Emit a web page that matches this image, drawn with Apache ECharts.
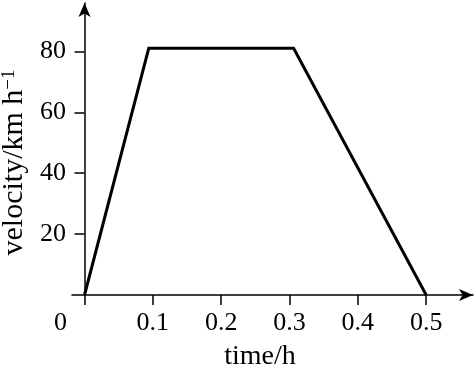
<!DOCTYPE html>
<html>
<head>
<meta charset="utf-8">
<script src="https://cdn.jsdelivr.net/npm/echarts@6/dist/echarts.min.js"></script>
<style>html,body{margin:0;padding:0;background:#fff;}#c{width:474px;height:366px;}</style>
</head>
<body>
<div id="c"></div>
<script>
const timeH = [0, 0.094, 0.306, 0.5];
const velocity = [0, 81, 81, 0];
const xTicks = [0, 0.1, 0.2, 0.3, 0.4, 0.5];
const yTicks = [20, 40, 60, 80];
const xName = 'time/h';
const yName = 'velocity/km h';
const ySup = '−1';

const font = '"Liberation Serif", "Times New Roman", serif';
const chart = echarts.init(document.getElementById('c'));
chart.setOption({
  animation: false,
  backgroundColor: '#fff',
  textStyle: { fontFamily: font },
  grid: { left: 72, right: 1, top: 3, bottom: 71, containLabel: false, outerBoundsMode: 'none' },
  xAxis: {
    type: 'value', min: -0.0183, max: 0.5685,
    splitLine: { show: false },
    axisLine: { onZero: true, lineStyle: { color: '#000', width: 1.5 }, symbol: ['none', 'arrow'], symbolSize: [9, 14] },
    axisTick: { customValues: xTicks, length: 10, inside: false, lineStyle: { color: '#000', width: 1.5 } },
    axisLabel: {
      customValues: xTicks, margin: 15, color: '#000', fontFamily: font, fontSize: 26,
      formatter: v => v === 0 ? '{z|0}' : String(v),
      rich: { z: { padding: [0, 48, 0, 0], fontFamily: font, fontSize: 26, color: '#000' } }
    },
    name: xName, nameLocation: 'middle', nameGap: 48,
    nameTextStyle: { color: '#000', fontFamily: font, fontSize: 28, padding: [0, 25, 0, 0] }
  },
  yAxis: {
    type: 'value', min: 0, max: 95.9,
    splitLine: { show: false },
    axisLine: { onZero: true, lineStyle: { color: '#000', width: 1.5 }, symbol: ['none', 'arrow'], symbolSize: [9, 14] },
    axisTick: { customValues: yTicks, length: 10, lineStyle: { color: '#000', width: 1.5 } },
    axisLabel: { customValues: yTicks, margin: 6, color: '#000', fontFamily: font, fontSize: 26 },
    name: yName + '{s|' + ySup + '}', nameLocation: 'middle', nameGap: 31, nameRotate: 90,
    nameTextStyle: {
      color: '#000', fontFamily: font, fontSize: 30, padding: [0, 27, 0, 0],
      rich: { s: { fontFamily: font, fontSize: 19, color: '#000', verticalAlign: 'top', lineHeight: 30 } }
    }
  },
  series: [{
    type: 'line', data: timeH.map((t, i) => [t, velocity[i]]),
    showSymbol: false, symbol: 'none',
    lineStyle: { color: '#000', width: 3, join: 'miter' }
  }]
});
</script>
</body>
</html>
